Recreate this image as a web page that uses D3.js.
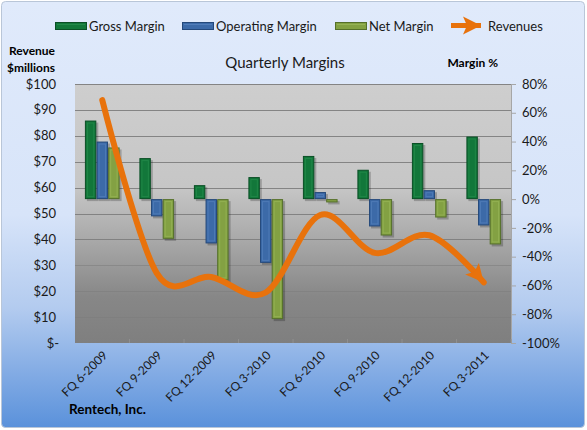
<!DOCTYPE html>
<head>
<meta charset="utf-8">
<title>Quarterly Margins</title>
<style>
  body { margin: 0; background: #fff; }
  svg { display: block; font-family: Lato, "Open Sans", sans-serif; }
</style>
</head>
<body>
<script src="https://cdn.jsdelivr.net/npm/d3@7"></script>
<script>

    var quarters = ["FQ 6-2009", "FQ 9-2009", "FQ 12-2009", "FQ 3-2010",
                    "FQ 6-2010", "FQ 9-2010", "FQ 12-2010", "FQ 3-2011"];
    var grossMargin = [54.6, 28.5, 9.7, 15.3, 30, 20.4, 39, 43.5];
    var operatingMargin = [40, -12, -30.8, -44.3, 4.9, -19, 6.2, -18.3];
    var netMargin = [35.9, -27.6, -56.5, -83.4, -2.3, -25.3, -12.8, -31.5];
    var revenues = [93.8, 27, 25.5, 19.5, 49.4, 34.8, 41.6, 23.4];
    var revenueTicks = [0, 10, 20, 30, 40, 50, 60, 70, 80, 90, 100];
    var marginTicks = [-100, -80, -60, -40, -20, 0, 20, 40, 60, 80];

    var series = [
        {name: "Gross Margin", values: grossMargin, fill: "#12773a", edge: "#0a4f25", light: "#2a9150"},
        {name: "Operating Margin", values: operatingMargin, fill: "#3c6aa8", edge: "#24487a", light: "#5a86c0"},
        {name: "Net Margin", values: netMargin, fill: "#83a143", edge: "#55702a", light: "#9dba5c"}
    ];
    var orange = "#e8720c";

    var W = 587, H = 430;
    var plot = {left: 75, right: 511, top: 84, bottom: 343};

    var svg = d3.select("body").append("svg")
        .attr("width", W)
        .attr("height", H);

    var defs = svg.append("defs");

    var bg = defs.append("linearGradient").attr("id", "bg")
        .attr("x1", 0).attr("y1", 0).attr("x2", 0).attr("y2", 1);
    [[0, "#e0eafb"], [0.5, "#d7e4f9"], [0.72, "#b3cbef"], [1, "#5a91db"]].forEach(function(s) {
        bg.append("stop").attr("offset", s[0]).attr("stop-color", s[1]);
    });

    var pg = defs.append("linearGradient").attr("id", "pg")
        .attr("x1", 0).attr("y1", 0).attr("x2", 0).attr("y2", 1);
    [[0, "#cecece"], [0.4, "#c6c6c6"], [0.62, "#a6a6a6"], [0.82, "#878787"], [1, "#7f7f7f"]].forEach(function(s) {
        pg.append("stop").attr("offset", s[0]).attr("stop-color", s[1]);
    });

    defs.append("marker")
        .attr("id", "arrow")
        .attr("markerUnits", "userSpaceOnUse")
        .attr("viewBox", "0 0 20 20")
        .attr("refX", 18).attr("refY", 10)
        .attr("markerWidth", 20).attr("markerHeight", 20)
        .attr("orient", "auto")
        .append("path")
        .attr("d", "M0,1 L18,10 L0,19 L4,10 Z")
        .attr("fill", orange);

    // chart area
    svg.append("rect")
        .attr("x", 1.5).attr("y", 1.5)
        .attr("width", W - 4).attr("height", H - 4)
        .attr("rx", 4)
        .attr("fill", "url(#bg)")
        .attr("stroke", "#b9c6d8");

    // plot area
    svg.append("rect")
        .attr("x", plot.left).attr("y", plot.top)
        .attr("width", plot.right - plot.left).attr("height", plot.bottom - plot.top)
        .attr("fill", "url(#pg)");

    var x = d3.scaleBand()
        .domain(quarters)
        .range([plot.left, plot.right]);

    var xs = d3.scaleBand()
        .domain(series.map(function(s) { return s.name; }))
        .range([0, x.bandwidth() * 0.645])
        .padding(0.02);

    var yRev = d3.scaleLinear().domain([0, 100]).range([plot.bottom, plot.top]);
    var yPct = d3.scaleLinear().domain([-100, 80]).range([plot.bottom, plot.top]);

    // gridlines
    svg.append("g")
        .selectAll("line")
        .data(revenueTicks.slice(1))
        .enter().append("line")
        .attr("x1", plot.left).attr("x2", plot.right)
        .attr("y1", function(d) { return Math.round(yRev(d)) + 0.5; })
        .attr("y2", function(d) { return Math.round(yRev(d)) + 0.5; })
        .attr("stroke", "#7c7c7c")
        .attr("stroke-opacity", function(d) { return d < 35 ? 0.55 : 0.9; });

    // left axis labels
    svg.append("g")
        .attr("font-size", "13px")
        .attr("fill", "#1a1a1a")
        .selectAll("text")
        .data(revenueTicks)
        .enter().append("text")
        .attr("x", function(d) { return d === 0 ? 59 : 56; })
        .attr("y", function(d) { return yRev(d) + 4.5; })
        .attr("text-anchor", "end")
        .text(function(d) { return d === 0 ? "$-" : "$" + d; });

    // right axis
    var yAxisR = d3.axisRight(yPct)
        .tickValues(marginTicks)
        .tickSize(5)
        .tickPadding(6)
        .tickFormat(function(d) { return d + "%"; });

    var gR = svg.append("g")
        .attr("transform", "translate(" + plot.right + ",0)")
        .call(yAxisR);
    gR.select(".domain").attr("stroke", "#a6a6a6");
    gR.selectAll(".tick line").attr("stroke", "#a6a6a6");
    gR.selectAll(".tick text")
        .attr("font-size", "13px")
        .attr("font-family", "Lato, sans-serif")
        .attr("fill", "#1a1a1a");

    // bottom category ticks
    svg.append("g")
        .selectAll("line")
        .data(quarters)
        .enter().append("line")
        .attr("x1", function(d) { return x(d) + x.bandwidth(); })
        .attr("x2", function(d) { return x(d) + x.bandwidth(); })
        .attr("y1", plot.bottom - 4).attr("y2", plot.bottom)
        .attr("stroke", "#8f8f8f");

    // bars
    var groups = svg.append("g").selectAll("g")
        .data(series)
        .enter().append("g");

    function barData(s) {
        return s.values.map(function(v, i) {
            return {q: quarters[i], v: v, s: s};
        });
    }
    function bx(d) { return x(d.q) + (x.bandwidth() - xs.range()[1]) / 2 + xs(d.s.name); }
    function by(d) { return Math.min(yPct(d.v), yPct(0)); }
    function bh(d) { return Math.max(Math.abs(yPct(d.v) - yPct(0)), 2); }

    // shadow
    groups.selectAll(".shadow")
        .data(barData)
        .enter().append("rect")
        .attr("class", "shadow")
        .attr("x", function(d) { return bx(d) + 2; })
        .attr("y", function(d) { return by(d) + 2; })
        .attr("width", xs.bandwidth())
        .attr("height", bh)
        .attr("fill", "#000")
        .attr("fill-opacity", 0.22);

    groups.selectAll(".bar")
        .data(barData)
        .enter().append("rect")
        .attr("class", "bar")
        .attr("x", function(d) { return bx(d) + 0.5; })
        .attr("y", function(d) { return by(d) + 0.5; })
        .attr("width", xs.bandwidth() - 1)
        .attr("height", function(d) { return bh(d) - 1; })
        .attr("fill", function(d) { return d.s.fill; })
        .attr("stroke", function(d) { return d.s.edge; });

    groups.selectAll(".bevel")
        .data(barData)
        .enter().append("rect")
        .attr("class", "bevel")
        .attr("x", function(d) { return bx(d) + 2.5; })
        .attr("y", function(d) { return by(d) + 2.5; })
        .attr("width", xs.bandwidth() - 5)
        .attr("height", function(d) { return Math.max(bh(d) - 5, 0); })
        .attr("fill", "none")
        .attr("stroke", function(d) { return d.s.light; })
        .attr("stroke-opacity", 0.6);

    // revenue line
    var line = d3.line()
        .x(function(d, i) { return x(quarters[i]) + x.bandwidth() / 2; })
        .y(function(d) { return yRev(d); })
        .curve(d3.curveCardinal.tension(0));

    svg.append("path")
        .datum(revenues)
        .attr("d", line)
        .attr("fill", "none")
        .attr("stroke", orange)
        .attr("stroke-width", 6)
        .attr("stroke-linecap", "round")
        .attr("marker-end", "url(#arrow)");

    // x labels
    svg.append("g")
        .attr("font-size", "12px")
        .attr("fill", "#1a1a1a")
        .selectAll("text")
        .data(quarters)
        .enter().append("text")
        .attr("text-anchor", "end")
        .attr("transform", function(d) {
            return "translate(" + (x(d) + x.bandwidth() / 2 + 6) + "," + (plot.bottom + 13) + ") rotate(-45)";
        })
        .text(function(d) { return d; });

    // titles
    svg.append("text")
        .attr("x", 285).attr("y", 68)
        .attr("text-anchor", "middle")
        .attr("font-size", "15px")
        .attr("fill", "#1a1a1a")
        .text("Quarterly Margins");

    svg.append("text")
        .attr("x", 55).attr("y", 55)
        .attr("text-anchor", "end")
        .attr("font-size", "12px")
        .attr("font-weight", "bold")
        .text("Revenue");
    svg.append("text")
        .attr("x", 55).attr("y", 72)
        .attr("text-anchor", "end")
        .attr("font-size", "12px")
        .attr("font-weight", "bold")
        .text("$millions");
    svg.append("text")
        .attr("x", 498).attr("y", 67)
        .attr("text-anchor", "end")
        .attr("font-size", "12px")
        .attr("font-weight", "bold")
        .text("Margin %");

    svg.append("text")
        .attr("x", 69).attr("y", 414)
        .attr("font-size", "13.5px")
        .attr("font-weight", "bold")
        .text("Rentech, Inc.");

    // legend
    var legendPos = [55, 182, 335];
    var legend = svg.append("g").attr("font-size", "13px").attr("fill", "#1a1a1a");

    series.forEach(function(s, i) {
        var row = legend.append("g")
            .attr("transform", "translate(" + legendPos[i] + ",22)");
        row.append("rect")
            .attr("x", 0.5).attr("y", 0.5)
            .attr("width", 31).attr("height", 7)
            .attr("fill", s.fill)
            .attr("stroke", s.edge);
        row.append("line")
            .attr("x1", 2).attr("x2", 30).attr("y1", 2.5).attr("y2", 2.5)
            .attr("stroke", s.light).attr("stroke-opacity", 0.7);
        row.append("text")
            .attr("x", 34).attr("y", 8.5)
            .text(s.name);
    });

    var revRow = legend.append("g").attr("transform", "translate(451,25.5)");
    revRow.append("line")
        .attr("x1", 0).attr("x2", 30).attr("y1", 0).attr("y2", 0)
        .attr("stroke", orange).attr("stroke-width", 5)
        .attr("marker-end", "url(#arrow)");
    revRow.append("text")
        .attr("x", 37).attr("y", 5)
        .text("Revenues");

</script>
</body>
